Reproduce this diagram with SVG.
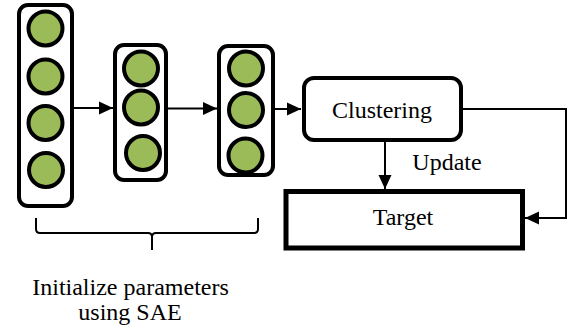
<svg xmlns="http://www.w3.org/2000/svg" width="573" height="332" viewBox="0 0 573 332">
<defs>
<style>
.col{fill:#fff;stroke:#000;stroke-width:4}
.n{fill:#9bbb59;stroke:#000;stroke-width:4}
.box{fill:#fff;stroke:#000}
.ln{fill:none;stroke:#000;stroke-width:2}
.ah{fill:#000;stroke:none}
</style>
<marker id="arr" markerWidth="14" markerHeight="14" refX="14" refY="7" orient="auto" markerUnits="userSpaceOnUse">
<path d="M0,0.5 L14,7 L0,13.5 Z" class="ah"/>
</marker>
</defs>
<rect width="573" height="332" fill="#fff"/>
<g id="layer1">
<rect class="col" x="19" y="5" width="53" height="201" rx="9"/>
<circle class="n" cx="45.5" cy="28.5" r="17"/>
<circle class="n" cx="45.5" cy="76.5" r="17"/>
<circle class="n" cx="45.5" cy="123" r="17"/>
<circle class="n" cx="46" cy="170" r="17"/>
</g>
<g id="layer2">
<rect class="col" x="115" y="45" width="51" height="135" rx="9"/>
<circle class="n" cx="141" cy="68.5" r="17"/>
<circle class="n" cx="141" cy="107.5" r="17"/>
<circle class="n" cx="143" cy="153" r="17"/>
</g>
<g id="layer3">
<rect class="col" x="219" y="46" width="54" height="129" rx="9"/>
<circle class="n" cx="246" cy="68.5" r="17"/>
<circle class="n" cx="246" cy="110" r="17"/>
<circle class="n" cx="245.5" cy="155.5" r="17"/>
</g>
<g id="clustering">
<rect class="box" x="304" y="78" width="157" height="62" rx="10" stroke-width="4"/>
<text x="382" y="118" font-family="Liberation Serif" font-size="24" text-anchor="middle">Clustering</text>
</g>
<g id="target">
<rect class="box" x="286" y="191.5" width="236.5" height="56.5" stroke-width="5"/>
<text x="403" y="225" font-family="Liberation Serif" font-size="24" text-anchor="middle">Target</text>
</g>
<g id="brace">
<path class="ln" d="M36,218 V229 Q36,233 40,233 H148 Q152,233 152,237 V250 M152,237 Q152,233 156,233 H254 Q258,233 258,229 V218"/>
</g>
<g id="connectors">
<line class="ln" x1="74" y1="108" x2="113" y2="108" marker-end="url(#arr)"/>
<line class="ln" x1="168" y1="108.5" x2="217" y2="108.5" marker-end="url(#arr)"/>
<line class="ln" x1="275" y1="109" x2="301" y2="109" marker-end="url(#arr)"/>
<line class="ln" x1="385" y1="142" x2="385" y2="189" marker-end="url(#arr)"/>
<polyline class="ln" points="463,109 566,109 566,218 525,218" stroke-width="1.8" marker-end="url(#arr)"/>
</g>
<g id="labels">
<text x="447" y="170" font-family="Liberation Serif" font-size="24" text-anchor="middle">Update</text>
<text x="130.5" y="295" font-family="Liberation Serif" font-size="24" text-anchor="middle">Initialize parameters</text>
<text x="130" y="320" font-family="Liberation Serif" font-size="24" text-anchor="middle">using SAE</text>
</g>
</svg>
